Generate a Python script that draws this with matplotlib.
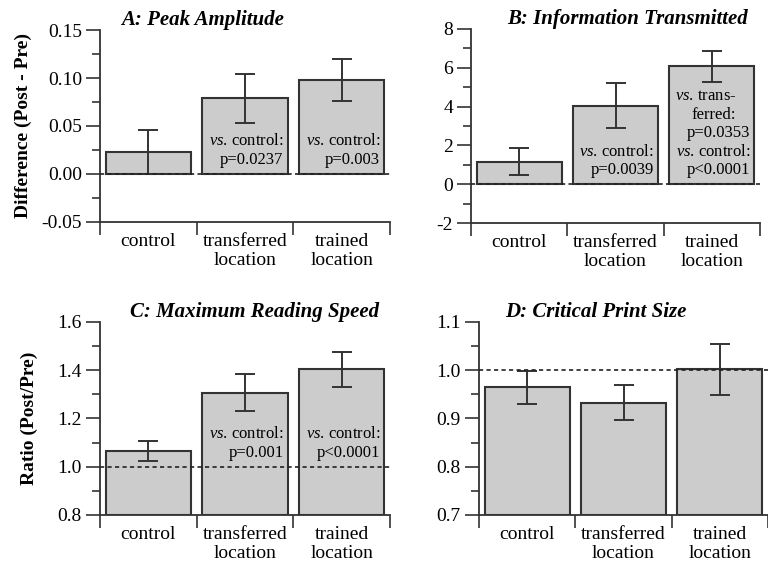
import numpy as np
import matplotlib
matplotlib.use("Agg")
import matplotlib.pyplot as plt
from matplotlib.ticker import MultipleLocator, FormatStrFormatter

plt.rcParams["font.family"] = ["Liberation Serif", "DejaVu Serif"]
plt.rcParams["mathtext.fontset"] = "custom"
plt.rcParams["mathtext.rm"] = "Liberation Serif"
plt.rcParams["mathtext.it"] = "Liberation Serif:italic"
plt.rcParams["axes.unicode_minus"] = False

# --- data -------------------------------------------------------------
categories = ["control", "transferred\nlocation", "trained\nlocation"]

amp_mean = [0.023, 0.079, 0.098]
amp_err = [0.023, 0.0255, 0.022]

info_mean = [1.17, 4.05, 6.07]
info_err = [0.68, 1.15, 0.81]

speed_mean = [1.066, 1.306, 1.404]
speed_err = [0.042, 0.077, 0.073]

cps_mean = [0.965, 0.933, 1.002]
cps_err = [0.034, 0.036, 0.053]

VS = r"$\mathit{vs}$."
amp_notes = [(1, [VS + " control:", "p=0.0237"], 0),
             (2, [VS + " control:", "p=0.003"], 0)]
info_notes = [(1, [VS + " control:", "p=0.0039"], 0),
              (2, [VS + " control:", "p<0.0001"], 0),
              (2, ["p=0.0353"], 2),
              (2, [VS + " trans-", "ferred:"], 3)]
speed_notes = [(1, [VS + " control:", "p=0.001"], 0),
               (2, [VS + " control:", "p<0.0001"], 0)]

# --- styling ----------------------------------------------------------
BAR_FILL = "#cccccc"
INK = "#333333"
BAR_W = 0.88
PX = 72.0 / 100  # points per pixel at dpi=100


def panel(ax, means, errs, ref, base, ylim, major, minor, fmt, title,
          title_x, notes=()):
    x = np.arange(len(categories))
    ax.bar(x, np.array(means) - base, bottom=base, width=BAR_W,
           color=BAR_FILL, edgecolor=INK, linewidth=1.5, zorder=2)
    ax.errorbar(x, means, yerr=errs, fmt="none", ecolor=INK,
                elinewidth=1.4, capsize=7, capthick=1.4, zorder=3)
    ax.axhline(ref, color="#222222", lw=1.2, ls=(0, (2.5, 2)), zorder=4)

    ax.set_xlim(-0.5, len(categories) - 0.5)
    ax.set_ylim(*ylim)
    ax.yaxis.set_major_locator(MultipleLocator(major))
    ax.yaxis.set_minor_locator(MultipleLocator(minor))
    ax.yaxis.set_major_formatter(FormatStrFormatter(fmt))

    # boundaries get the ticks, category names sit between them
    ax.set_xticks(np.arange(len(categories) + 1) - 0.5)
    ax.set_xticklabels([])
    ax.set_xticks(x, minor=True)
    ax.set_xticklabels(categories, minor=True, fontsize=14, linespacing=1.15)

    ax.tick_params(axis="x", which="major", length=9, width=1.2, color=INK)
    ax.tick_params(axis="x", which="minor", length=0, pad=8)
    ax.tick_params(axis="y", which="major", length=10, width=1.2, color=INK,
                   labelsize=14, pad=3)
    ax.tick_params(axis="y", which="minor", length=5.5, width=1.2, color=INK)

    for side in ("top", "right"):
        ax.spines[side].set_visible(False)
    for side in ("left", "bottom"):
        ax.spines[side].set_color(INK)
        ax.spines[side].set_linewidth(1.3)

    ax.text(title_x, 1.0, title, transform=ax.transAxes, ha="center",
            va="bottom", fontsize=15, fontweight="bold", fontstyle="italic")

    # p-value notes stacked upward from the reference line
    for i, lines, row0 in notes:
        dx = -18 if row0 == 3 else -4
        for k, line in enumerate(reversed(lines)):
            ax.annotate(line, xy=(i + BAR_W / 2, ref), xycoords="data",
                        xytext=(dx * PX, (10 + (row0 + k) * 18.5) * PX),
                        textcoords="offset points", ha="right",
                        va="baseline", fontsize=12, zorder=5)


fig = plt.figure(figsize=(7.68, 5.64), dpi=100)
axA = fig.add_axes([0.1302, 0.6064, 0.3776, 0.3404])
axB = fig.add_axes([0.6133, 0.6046, 0.3763, 0.3440])
axC = fig.add_axes([0.1302, 0.0869, 0.3776, 0.3422])
axD = fig.add_axes([0.6237, 0.0869, 0.3763, 0.3422])

panel(axA, amp_mean, amp_err, 0.0, 0.0, (-0.05, 0.15), 0.05, 0.025, "%.2f",
      "A: Peak Amplitude", 0.353, amp_notes)
panel(axB, info_mean, info_err, 0.0, 0.0, (-2, 8), 2, 1, "%d",
      "B: Information Transmitted", 0.54, info_notes)
panel(axC, speed_mean, speed_err, 1.0, 0.8, (0.8, 1.6), 0.2, 0.1, "%.1f",
      "C: Maximum Reading Speed", 0.533, speed_notes)
panel(axD, cps_mean, cps_err, 1.0, 0.7, (0.7, 1.1), 0.1, 0.05, "%.1f",
      "D: Critical Print Size", 0.403)

axA.set_ylabel("Difference (Post - Pre)", fontsize=14, fontweight="bold")
axA.yaxis.set_label_coords(-0.234, 0.5)
axC.set_ylabel("Ratio (Post/Pre)", fontsize=14, fontweight="bold")
axC.yaxis.set_label_coords(-0.214, 0.5)

fig.savefig("out.png", dpi=100)
